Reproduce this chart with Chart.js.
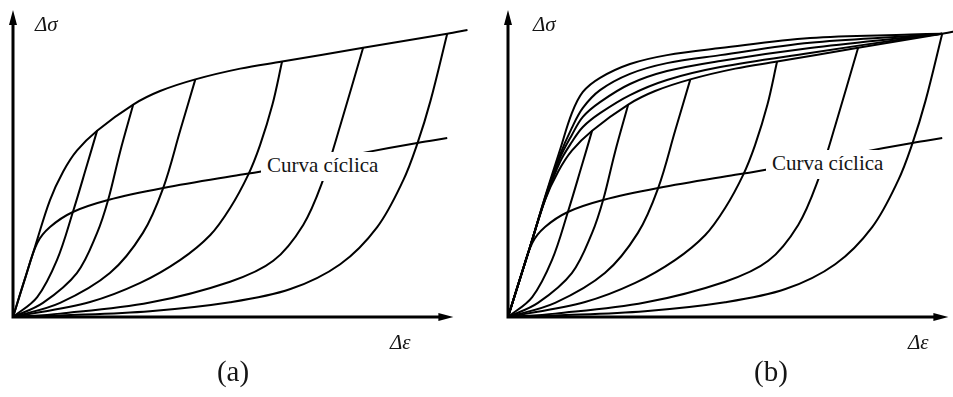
<!DOCTYPE html>
<html>
<head>
<meta charset="utf-8">
<script src="https://cdn.jsdelivr.net/npm/chart.js@4.4.1/dist/chart.umd.min.js"></script>
<style>
  html, body { margin: 0; padding: 0; background: #fff; }
  #wrap { position: relative; width: 953px; height: 397px; overflow: hidden; }
  canvas { position: absolute; top: 0; }
  #chartA { left: 0; }
  #chartB { left: 476px; }
  .lbl { position: absolute; font-family: "Liberation Serif", "DejaVu Serif", serif; color: #151515; white-space: nowrap; line-height: 1; }
  .sym { font-style: italic; font-size: 21px; }
  .cyc { font-size: 21px; background: #fff; padding: 3px 4px 5px 6px; }
  .cap { font-size: 29px; transform: translateX(-50%); }
</style>
</head>
<body>
<div id="wrap">
  <canvas id="chartA" width="476" height="397"></canvas>
  <canvas id="chartB" width="490" height="397"></canvas>

  <div class="lbl sym" style="left:35px; top:14px;">Δσ</div>
  <div class="lbl sym" style="left:390px; top:332px;">Δε</div>
  <div class="lbl cyc" style="left:261px; top:152px;">Curva cíclica</div>
  <div class="lbl cap" style="left:233px; top:357px;">(a)</div>

  <div class="lbl sym" style="left:533px; top:14px;">Δσ</div>
  <div class="lbl sym" style="left:908px; top:332px;">Δε</div>
  <div class="lbl cyc" style="left:766px; top:150px;">Curva cíclica</div>
  <div class="lbl cap" style="left:771px; top:357px;">(b)</div>
</div>

<script>
// strain / stress in arbitrary units, origin at the loop tip
// upper branch shared by every loop in (a) (Masing)
const envelope = [[0,0],[5.0,22.9],[8.4,38.1],[11.4,47.4],[14.5,54.2],[19.1,60.7],[27.3,69.2],
  [33.4,73.6],[41.4,77.4],[51.6,80.9],[61.1,83.2],[79.5,87.7],[98.6,92.3],[103.2,93.5]];

// lower (loading) branches, smallest loop first
const loop1 = [[0,0],[5.5,6.5],[10.0,18.6],[13.6,34.2],[16.8,49.5],[19.1,60.7]];
const loop2 = [[0,0],[6.8,4.6],[14.5,14.3],[19.1,27.4],[21.6,38.1],[24.3,53.7],[27.3,69.2]];
const loop3 = [[0,0],[10.7,4.6],[22.0,14.3],[29.5,27.4],[34.1,42.0],[38.0,60.9],[41.4,77.4]];
const loop4 = [[0,0],[17.5,4.9],[28.9,11.1],[38.0,18.6],[44.8,26.7],[49.3,35.5],[53.4,46.3],
  [56.1,56.0],[58.9,69.1],[61.1,83.2]];
const loop5 = [[0,0],[10.7,1.1],[31.1,4.7],[49.3,11.5],[59.1,18.3],[65.9,30.0],[70.5,45.0],
  [74.3,62.3],[79.5,87.7]];
const loop6 = [[0,0],[10.7,0.5],[31.1,1.9],[49.3,4.8],[63.0,9.1],[74.3,17.2],[82.7,29.3],
  [88.6,44.5],[91.8,56.4],[94.8,70.4],[98.6,92.3]];

// cyclic stress-strain curve
const cyclicCurve = [[0,0],[2.7,12.4],[5.5,24.1],[8.4,29.3],[13.6,34.2],[21.6,38.1],[34.1,42.0],
  [51.6,46.3],[55.7,47.2],[78.9,53.3],[91.8,56.7],[98.6,58.3]];

// (b): upper branches that change from loop to loop, all meeting at the largest tip
const upperX = [0, 5.0, 8.4, 11.8, 14.5, 17.0, 20.9, 27.7, 36.1, 48.2, 68.6, 91.4, 98.6];
const upper1 = [0, 22.8, 39.1, 54.4, 66.4, 73.3, 77.9, 82.4, 85.3, 87.6, 90.9, 92.0, 92.3];
const upper2 = [0, 22.8, 38.8, 52.8, 61.6, 68.1, 73.9, 79.2, 82.7, 85.3, 89.3, 91.5, 92.3];
const upper3 = [0, 22.8, 38.4, 51.8, 59.3, 65.2, 70.0, 75.9, 80.1, 83.4, 87.6, 91.2, 92.3];
const upper4 = [0, 22.8, 38.1, 50.5, 57.0, 61.9, 66.4, 72.3, 77.2, 81.4, 86.0, 90.9, 92.3];

const X_MAX = 104;
const AXIS_END = 100;

const toXY = pts => pts.map(([x, y]) => ({ x, y }));
const zipXY = (xs, ys) => xs.map((x, i) => ({ x, y: ys[i] }));

// axes are drawn by hand: thick black lines with arrow heads
const axisArrows = {
  id: 'axisArrows',
  afterDatasetsDraw(chart) {
    const { ctx, scales: { x, y } } = chart;
    const x0 = x.getPixelForValue(0);
    const y0 = y.getPixelForValue(0);
    const xEnd = x.getPixelForValue(AXIS_END);
    const yEnd = y.getPixelForValue(100);
    ctx.save();
    ctx.strokeStyle = '#000';
    ctx.fillStyle = '#000';
    ctx.lineWidth = 3;
    ctx.beginPath();
    ctx.moveTo(x0 - 1.5, y0);
    ctx.lineTo(xEnd - 10, y0);
    ctx.moveTo(x0, y0 + 1.5);
    ctx.lineTo(x0, yEnd + 10);
    ctx.stroke();
    ctx.beginPath();
    ctx.moveTo(xEnd, y0);
    ctx.lineTo(xEnd - 15, y0 - 4);
    ctx.lineTo(xEnd - 15, y0 + 4);
    ctx.closePath();
    ctx.fill();
    ctx.beginPath();
    ctx.moveTo(x0, yEnd);
    ctx.lineTo(x0 - 4, yEnd + 15);
    ctx.lineTo(x0 + 4, yEnd + 15);
    ctx.closePath();
    ctx.fill();
    ctx.restore();
  }
};

function curve(points) {
  return {
    data: points,
    showLine: true,
    borderColor: '#000',
    borderWidth: 2,
    pointRadius: 0,
    tension: 0.35,
    fill: false
  };
}

function makeChart(id, curves, padLeft, padRight) {
  return new Chart(document.getElementById(id), {
    type: 'scatter',
    data: { datasets: curves.map(curve) },
    options: {
      responsive: false,
      animation: false,
      events: [],
      layout: { padding: { left: padLeft, right: padRight, top: 10, bottom: 80 } },
      scales: {
        x: { type: 'linear', min: 0, max: X_MAX, display: false },
        y: { type: 'linear', min: 0, max: 100, display: false }
      },
      plugins: { legend: { display: false }, tooltip: { enabled: false } }
    },
    plugins: [axisArrows]
  });
}

const lowerBranches = [loop1, loop2, loop3, loop4, loop5, loop6].map(toXY);

makeChart('chartA', [toXY(envelope), ...lowerBranches, toXY(cyclicCurve)], 13, 5);

makeChart('chartB', [
  zipXY(upperX, upper1), zipXY(upperX, upper2), zipXY(upperX, upper3), zipXY(upperX, upper4),
  toXY(envelope), ...lowerBranches, toXY(cyclicCurve)
], 32, 0);
</script>
</body>
</html>
